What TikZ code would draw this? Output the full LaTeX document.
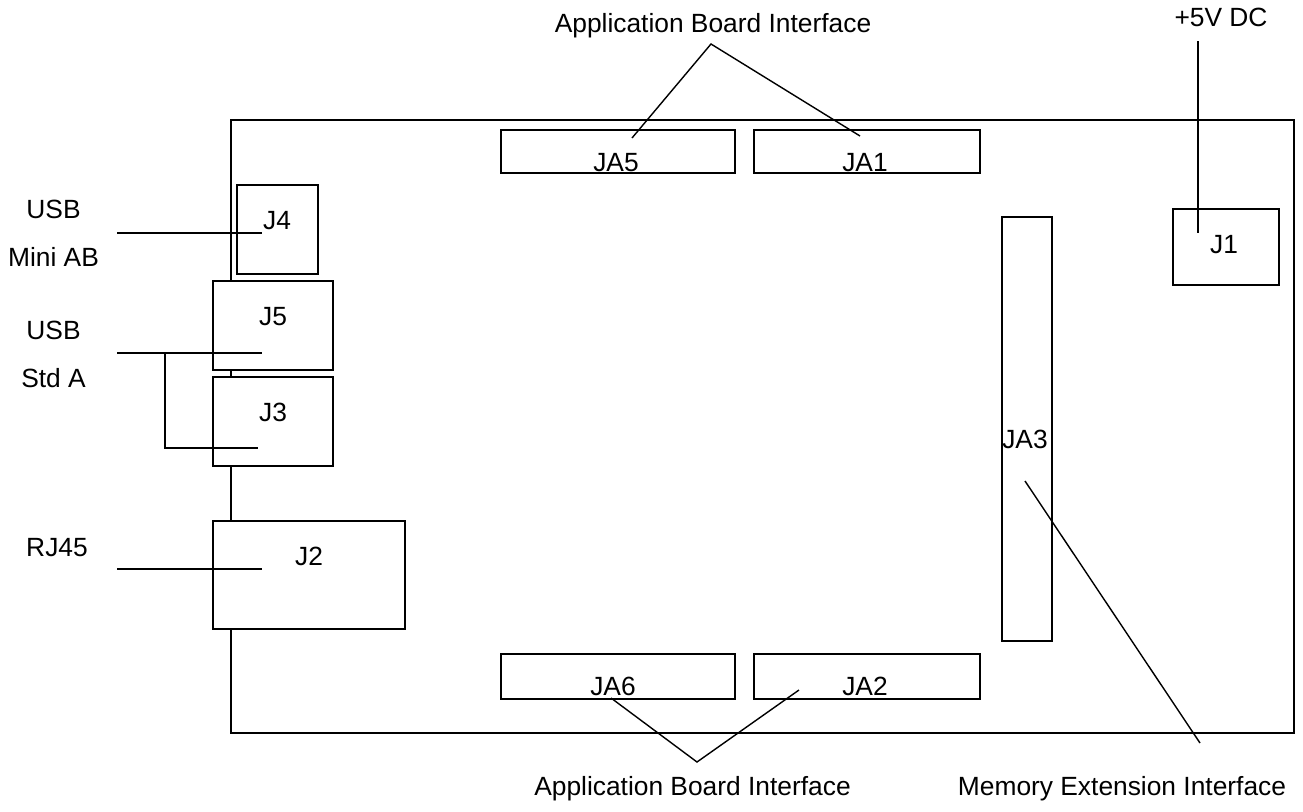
\documentclass[tikz,border=0pt]{standalone}
\usepackage{fontspec}
\setmainfont{Liberation Sans}
\begin{document}
\begin{tikzpicture}[x=0.02cm, y=-0.02cm,
        every node/.style={font=\fontsize{15}{18}\selectfont},
        conn/.style={draw, fill=white, line width=1pt, inner sep=0pt},
        tag/.style={anchor=base, inner sep=0pt},
        lead/.style={line width=0.8pt}]
        \useasboundingbox (0,0) rectangle (1303,812);
        \draw[line width=1pt] (231,120) rectangle (1294,733);
        % connectors on the board
        \node[conn, minimum width=1.62cm, minimum height=1.78cm] (j4) at (277.5,229.5) {};
        \node[conn, minimum width=2.4cm, minimum height=1.78cm] (j5) at (273,325.5) {};
        \node[conn, minimum width=2.4cm, minimum height=1.78cm] (j3) at (273,421.5) {};
        \node[conn, minimum width=3.84cm, minimum height=2.16cm] (j2) at (309,575) {};
        \node[conn, minimum width=4.68cm, minimum height=0.86cm] (ja5) at (618,151.5) {};
        \node[conn, minimum width=4.52cm, minimum height=0.86cm] (ja1) at (867,151.5) {};
        \node[conn, minimum width=4.68cm, minimum height=0.9cm] (ja6) at (618,676.5) {};
        \node[conn, minimum width=4.52cm, minimum height=0.9cm] (ja2) at (867,676.5) {};
        \node[conn, minimum width=1cm, minimum height=8.48cm] (ja3) at (1027,429) {};
        \node[conn, minimum width=2.12cm, minimum height=1.52cm] (j1) at (1226,247) {};
        \node[tag] (j4t) at (277,229) {J4};
        \node[tag] (j5t) at (273,325) {J5};
        \node[tag] (j3t) at (273,421) {J3};
        \node[tag] (j2t) at (309,565) {J2};
        \node[tag] (ja5t) at (616,171) {JA5};
        \node[tag] (ja1t) at (865,171) {JA1};
        \node[tag] (ja6t) at (613,695) {JA6};
        \node[tag] (ja2t) at (865,695) {JA2};
        \node[tag] (ja3t) at (1025,448) {JA3};
        \node[tag] (j1t) at (1224,253) {J1};
        % outside texts
        \node[tag] (usbmini) at (53.5,218.5) {USB};
        \node[tag] (miniab) at (53.5,266.5) {Mini AB};
        \node[tag] (usbstd) at (53.5,339.5) {USB};
        \node[tag] (stda) at (53.5,387.5) {Std A};
        \node[tag] (rj) at (57,556.5) {RJ45};
        \node[tag] (apptop) at (713,32) {Application Board Interface};
        \node[tag] (appbot) at (692.5,795) {Application Board Interface};
        \node[tag] (memif) at (1122,795) {Memory Extension Interface};
        \node[tag] (dc) at (1221,26) {+5V DC};
        % leader lines
        \coordinate (p4) at (117,233);
        \coordinate (e4) at (262,233);
        \coordinate (p5) at (117,353);
        \coordinate (e5) at (262,353);
        \coordinate (split) at (165,353);
        \coordinate (e3) at (258,448);
        \coordinate (p2) at (117,569);
        \coordinate (e2) at (262,569);
        \coordinate (pdc) at (1198,41);
        \coordinate (e1) at (1198,233);
        \coordinate (tip) at (711,44);
        \coordinate (ea5) at (632,138);
        \coordinate (ea1) at (860,136);
        \coordinate (btip) at (697,762);
        \coordinate (ea6) at (611,698);
        \coordinate (ea2) at (799,690);
        \coordinate (ea3) at (1025,481);
        \coordinate (pmem) at (1200,743);
        \draw[lead] (p4) -- (e4);
        \draw[lead] (p5) -- (e5);
        \draw[lead] (split) |- (e3);
        \draw[lead] (p2) -- (e2);
        \draw[lead] (pdc) -- (e1);
        \draw[lead] (ea5) -- (tip) -- (ea1);
        \draw[lead] (ea6) -- (btip) -- (ea2);
        \draw[lead] (ea3) -- (pmem);
\end{tikzpicture}
\end{document}
